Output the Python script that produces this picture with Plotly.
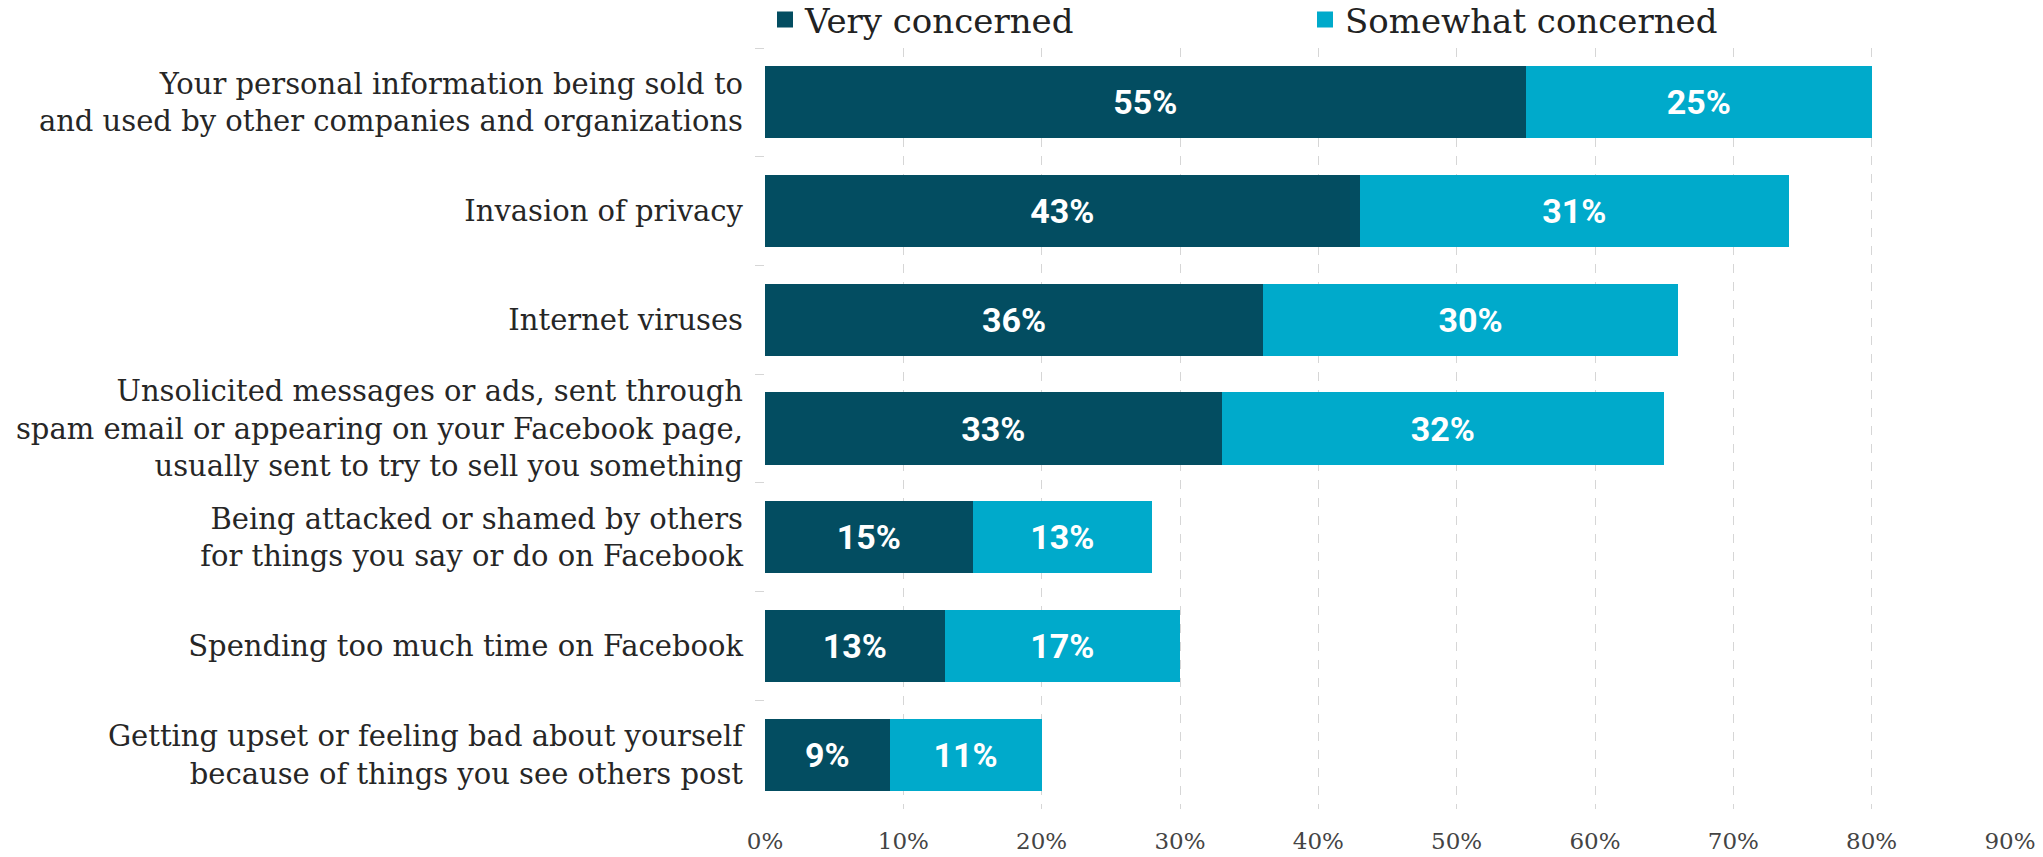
import plotly.graph_objects as go

categories = [
    "Your personal information being sold to<br>and used by other companies and organizations",
    "Invasion of privacy",
    "Internet viruses",
    "Unsolicited messages or ads, sent through<br>spam email or appearing on your Facebook page,<br>usually sent to try to sell you something",
    "Being attacked or shamed by others<br>for things you say or do on Facebook",
    "Spending too much time on Facebook",
    "Getting upset or feeling bad about yourself<br>because of things you see others post",
]
very_concerned = [55, 43, 36, 33, 15, 13, 9]
somewhat_concerned = [25, 31, 30, 32, 13, 17, 11]
series_names = ["Very concerned", "Somewhat concerned"]
x_ticks = [0, 10, 20, 30, 40, 50, 60, 70, 80, 90]
x_tick_labels = [f"{v}%" for v in x_ticks]

DARK = "#034d61"
LIGHT = "#00aacb"
SERIF = "DejaVu Serif, serif"

fig = go.Figure()
for name, vals, col in [(series_names[0], very_concerned, DARK),
                        (series_names[1], somewhat_concerned, LIGHT)]:
    fig.add_trace(go.Bar(
        y=categories, x=vals, name=name, orientation="h",
        marker=dict(color=col, line=dict(width=0)),
        text=[f"{v}%" for v in vals], texttemplate="%{text}",
        textposition="inside", insidetextanchor="middle", textangle=0,
        textfont=dict(family="Roboto", size=34, color="white", weight="bold"),
        hoverinfo="skip", showlegend=False, legendgroup=name,
    ))

# legend proxies with larger square swatches
for name, col in [(series_names[0], DARK), (series_names[1], LIGHT)]:
    fig.add_trace(go.Scatter(
        x=[None], y=[None], mode="markers", name=name, legendgroup=name,
        marker=dict(symbol="square", size=22, color=col),
        hoverinfo="skip", showlegend=True,
    ))

fig.update_layout(
    width=2043, height=857,
    barmode="stack", bargap=0.337,
    margin=dict(l=765, r=33, t=48, b=48, pad=0, autoexpand=False),
    plot_bgcolor="white", paper_bgcolor="white",
    font=dict(family=SERIF, color="#262626"),
    legend=dict(
        orientation="h", x=0.0, xanchor="left", y=1.037, yanchor="middle",
        font=dict(family=SERIF, size=34, color="#222222"),
        entrywidth=495, traceorder="normal", itemwidth=30,
        bgcolor="rgba(0,0,0,0)",
    ),
    xaxis=dict(
        range=[0, 90], tickvals=x_ticks, ticktext=x_tick_labels,
        showgrid=True, gridcolor="#d6d6d6", gridwidth=1, griddash="dash",
        zeroline=False, showline=False, ticks="",
        tickfont=dict(family=SERIF, size=23, color="#444444"),
        ticklabelstandoff=16,
    ),
    yaxis=dict(
        autorange="reversed", showgrid=False, zeroline=False, showline=False,
        tickson="boundaries", ticks="outside", ticklen=9, tickcolor="#d6d6d6",
        tickwidth=1,
        tickfont=dict(family=SERIF, size=29, color="#262626"),
        ticklabelstandoff=21,
    ),
)

fig.write_html("out.html")
